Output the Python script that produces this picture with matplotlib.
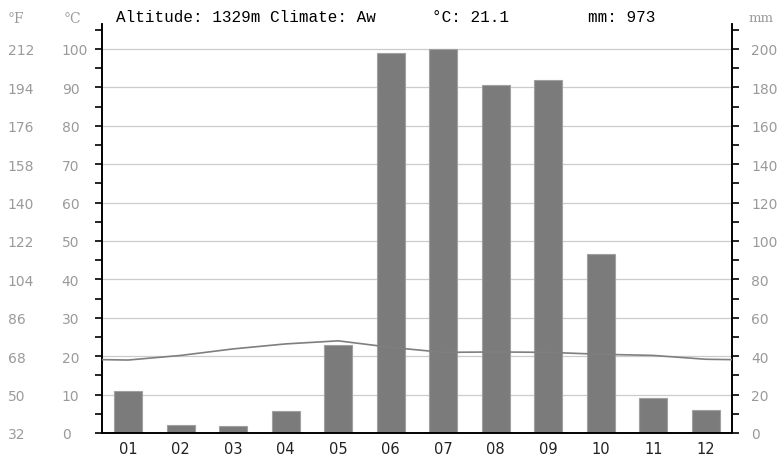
import numpy as np
import matplotlib
matplotlib.use("Agg")
import matplotlib.pyplot as plt
from matplotlib.ticker import MultipleLocator

# climate data
months = ['01', '02', '03', '04', '05', '06', '07', '08', '09', '10', '11', '12']
temp_c = [19.0, 20.2, 21.9, 23.2, 24.0, 22.3, 21.0, 21.1, 21.0, 20.5, 20.2, 19.2]
precip_mm = [22, 4, 3.5, 11.5, 46, 198, 200, 181, 184, 93, 18, 12]
altitude = 1329
climate = 'Aw'

grey_txt = '#9a9a9a'

fig = plt.figure(figsize=(7.81, 4.56), dpi=100)
ax = fig.add_axes([102/781, 22/456, 630/781, 409/456])   # temperature axis (°C)
axp = ax.twinx()                                         # precipitation axis (mm)

x = np.arange(1, 13)
axp.bar(x, precip_mm, width=0.53, color='#7b7b7b', edgecolor='#a0a0a0', linewidth=0.8, zorder=2)

# temperature line, wrapped round Dec -> Jan at the edges
xt = np.concatenate([[0], x, [13]])
yt = np.concatenate([[temp_c[-1]], temp_c, [temp_c[0]]])
ax.plot(xt, yt, color='#7f7f7f', lw=1.2, zorder=5)
ax.set_zorder(axp.get_zorder() + 1)
ax.patch.set_visible(False)

top_c = 106.5
ax.set_ylim(0, top_c)
axp.set_ylim(0, top_c * 2)
ax.set_xlim(0.5, 12.5)

# gridlines for every 10 °C
for g in range(10, 101, 10):
    axp.axhline(g * 2, color='#cccccc', lw=0.9, zorder=1)

for a in (ax, axp):
    a.spines['top'].set_visible(False)
    for s in ('left', 'right', 'bottom'):
        a.spines[s].set_color('black')
        a.spines[s].set_linewidth(1.2)

# left °C ticks
ax.set_yticks(range(0, 101, 10))
ax.yaxis.set_minor_locator(MultipleLocator(5))
ax.tick_params(axis='y', which='both', direction='out', length=5, width=1.2,
               labelsize=10, labelcolor=grey_txt, pad=24)
for lab in ax.get_yticklabels():
    lab.set_horizontalalignment('left')

# right mm ticks
axp.set_yticks(range(0, 201, 20))
axp.yaxis.set_minor_locator(MultipleLocator(10))
axp.tick_params(axis='y', which='both', direction='out', length=5, width=1.2,
                labelsize=10, labelcolor=grey_txt, pad=9)

# x ticks at month boundaries, labels at month centres
ax.set_xticks(np.arange(0.5, 13, 1))
ax.set_xticklabels([])
ax.tick_params(axis='x', which='major', direction='out', length=5, width=1.2)
ax.set_xticks(x, minor=True)
ax.set_xticklabels(months, minor=True)
ax.tick_params(axis='x', which='minor', length=0, labelsize=10.5, labelcolor='#222222', pad=6)
axp.set_xticks([])

# °F labels on the far left
fahr = ax.secondary_yaxis('left', functions=(lambda c: c * 9 / 5 + 32, lambda f: (f - 32) * 5 / 9))
fahr.set_yticks(range(32, 213, 18))
fahr.spines['left'].set_visible(False)
fahr.tick_params(axis='y', length=0, labelsize=10, labelcolor=grey_txt, pad=68)
for lab in fahr.get_yticklabels():
    lab.set_horizontalalignment('left')

# unit captions
fig.text(8/781, 1 - 19/456, '°F', fontsize=10, color=grey_txt, family='DejaVu Serif', va='center')
fig.text(64/781, 1 - 19/456, '°C', fontsize=10, color=grey_txt, family='DejaVu Serif', va='center')
fig.text(749/781, 1 - 19/456, 'mm', fontsize=9.5, color=grey_txt, family='DejaVu Serif', va='center')

# header
mean_t = np.mean(temp_c)
total_p = np.sum(precip_mm)
hdr = dict(fontsize=11.5, family='Liberation Mono', color='black', va='center')
fig.text(116/781, 1 - 18/456, 'Altitude: %dm Climate: %s' % (altitude, climate), **hdr)
fig.text(432/781, 1 - 18/456, '°C: %.1f' % mean_t, **hdr)
fig.text(588/781, 1 - 18/456, 'mm: %d' % round(total_p), **hdr)

fig.savefig('out.png', dpi=100)
